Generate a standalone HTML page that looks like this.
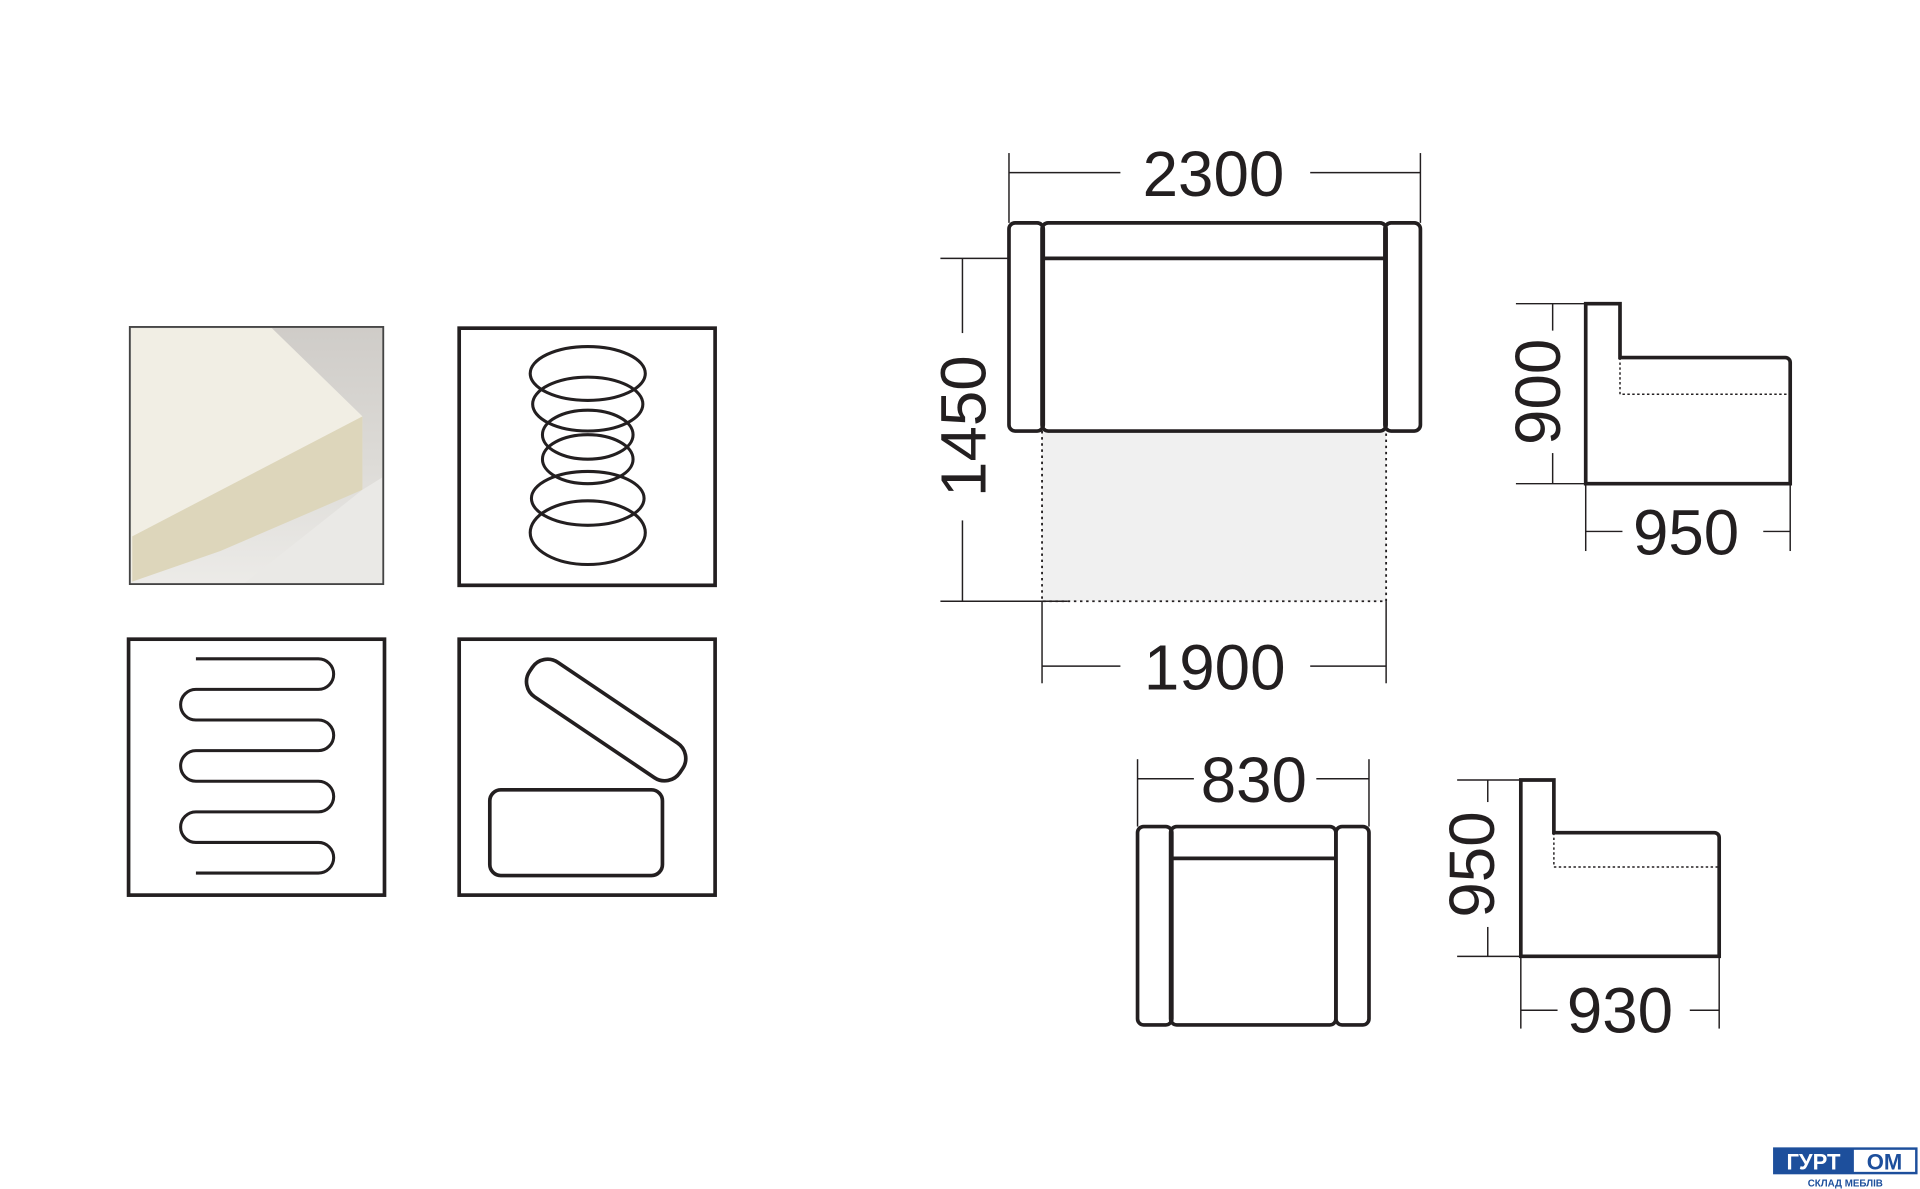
<!DOCTYPE html>
<html><head><meta charset="utf-8"><style>
html,body{margin:0;padding:0;background:#fff;}
svg{display:block}
text{font-family:"Liberation Sans",Arial,sans-serif;fill:#231f20}
</style></head><body>
<svg width="1920" height="1189" viewBox="0 0 1568 971" preserveAspectRatio="none" xmlns="http://www.w3.org/2000/svg">
<defs>
<linearGradient id="bg" x1="0" y1="0" x2="0" y2="1">
<stop offset="0" stop-color="#cfccc8"/><stop offset="0.5" stop-color="#dcdad6"/><stop offset="1" stop-color="#ecebe8"/>
</linearGradient>
</defs>
<g stroke="#231f20" fill="none" stroke-width="3">
<!-- foam photo -->
<rect x="106" y="267" width="207" height="210" fill="url(#bg)" stroke="none"/>
<polygon points="107,268 222,268 296,340 296,400 107,475" fill="#f1eee4" stroke="none"/>
<polygon points="108,438 296,340 296,400 180,450 108,475" fill="#ddd6bb" stroke="none"/>
<polygon points="296,400 312,390 312,476 200,476" fill="#eae9e6" stroke="none"/>
<rect x="106" y="267" width="207" height="210" stroke="#444" stroke-width="1.5"/>
<!-- spring box -->
<rect x="375" y="268" width="209" height="210"/>
<g stroke-width="2.5">
<ellipse cx="480" cy="305" rx="47" ry="22"/>
<ellipse cx="480" cy="330" rx="45" ry="22"/>
<ellipse cx="480" cy="355" rx="37" ry="20"/>
<ellipse cx="480" cy="375" rx="37" ry="20"/>
<ellipse cx="480" cy="407" rx="46" ry="22"/>
<ellipse cx="480" cy="435" rx="47" ry="26"/>
</g>
<!-- zigzag box -->
<rect x="105" y="522" width="209" height="209"/>
<path d="M160,538 H260 A12,12 0 0 1 260,563 H160 A12,12 0 0 0 160,588 H260 A12,12 0 0 1 260,613 H160 A12,12 0 0 0 160,638 H260 A12,12 0 0 1 260,663 H160 A12,12 0 0 0 160,688 H260 A12,12 0 0 1 260,713 H160" stroke-width="2.5"/>
<!-- storage box -->
<rect x="375" y="522" width="209" height="209"/>
<rect x="400" y="645" width="141" height="70" rx="9"/>
<rect x="421" y="571" width="148" height="34" rx="15" transform="rotate(34 495 588)"/>

<!-- sofa -->
<rect x="851" y="352" width="281" height="139" fill="#f0f0f0" stroke="none"/>
<path d="M851,352 V491 H1132 V352" stroke-width="1.5" stroke-dasharray="2,3"/>
<rect x="824" y="182" width="28" height="170" rx="5"/>
<rect x="1131" y="182" width="29" height="170" rx="5"/>
<rect x="851" y="182" width="281" height="170" rx="5"/>
<line x1="851" y1="211" x2="1132" y2="211"/>
<g stroke-width="1.2">
<line x1="824" y1="125" x2="824" y2="182"/><line x1="1160" y1="125" x2="1160" y2="182"/>
<line x1="824" y1="141" x2="915" y2="141"/><line x1="1070" y1="141" x2="1160" y2="141"/>
<line x1="768" y1="211" x2="824" y2="211"/><line x1="768" y1="491" x2="872" y2="491"/>
<line x1="786" y1="211" x2="786" y2="272"/><line x1="786" y1="425" x2="786" y2="491"/>
<line x1="851" y1="491" x2="851" y2="558"/><line x1="1132" y1="491" x2="1132" y2="558"/>
<line x1="851" y1="544" x2="915" y2="544"/><line x1="1070" y1="544" x2="1132" y2="544"/>
</g>
<!-- side view 1 -->
<path d="M1295,395 V248 H1323 V292 H1458 A4,4 0 0 1 1462,296 V395 Z"/>
<path d="M1323,292 V322 H1462" stroke-width="1.2" stroke-dasharray="2,2"/>
<g stroke-width="1.2">
<line x1="1238" y1="248" x2="1295" y2="248"/><line x1="1238" y1="395" x2="1295" y2="395"/>
<line x1="1268" y1="248" x2="1268" y2="270"/><line x1="1268" y1="370" x2="1268" y2="395"/>
<line x1="1295" y1="395" x2="1295" y2="450"/><line x1="1462" y1="395" x2="1462" y2="450"/>
<line x1="1295" y1="434" x2="1325" y2="434"/><line x1="1440" y1="434" x2="1462" y2="434"/>
</g>
<!-- armchair -->
<rect x="929" y="675" width="28" height="162" rx="5"/>
<rect x="1091" y="675" width="27" height="162" rx="5"/>
<rect x="956" y="675" width="135" height="162" rx="5"/>
<line x1="956" y1="701" x2="1091" y2="701"/>
<g stroke-width="1.2">
<line x1="929" y1="620" x2="929" y2="675"/><line x1="1118" y1="620" x2="1118" y2="675"/>
<line x1="929" y1="636" x2="975" y2="636"/><line x1="1075" y1="636" x2="1118" y2="636"/>
</g>
<!-- side view 2 -->
<path d="M1242,781 V637 H1269 V680 H1400 A4,4 0 0 1 1404,684 V781 Z"/>
<path d="M1269,680 V708 H1404" stroke-width="1.2" stroke-dasharray="2,2"/>
<g stroke-width="1.2">
<line x1="1190" y1="637" x2="1242" y2="637"/><line x1="1190" y1="781" x2="1242" y2="781"/>
<line x1="1215" y1="637" x2="1215" y2="655"/><line x1="1215" y1="757" x2="1215" y2="781"/>
<line x1="1242" y1="781" x2="1242" y2="840"/><line x1="1404" y1="781" x2="1404" y2="840"/>
<line x1="1242" y1="825" x2="1272" y2="825"/><line x1="1380" y1="825" x2="1404" y2="825"/>
</g>
</g>
<g font-size="52" text-anchor="middle">
<text x="991" y="160">2300</text>
<text x="992" y="563">1900</text>
<text x="1377" y="453">950</text>
<text x="1024" y="655">830</text>
<text x="1323" y="843">930</text>
<text transform="translate(805,348) rotate(-90)">1450</text>
<text transform="translate(1274,320) rotate(-90)">900</text>
<text transform="translate(1220,706) rotate(-90)">950</text>
</g>
<!-- logo -->
<rect x="1448" y="937" width="118" height="22" fill="#1d4f9c"/>
<rect x="1514" y="939" width="50" height="18" fill="#fff"/>
<text x="1481" y="955" font-size="18" font-weight="bold" text-anchor="middle" style="fill:#fff">ГУРТ</text>
<text x="1539" y="955" font-size="18" font-weight="bold" text-anchor="middle" style="fill:#1d4f9c">ОМ</text>
<text x="1507" y="969" font-size="8" font-weight="bold" text-anchor="middle" style="fill:#1d4f9c">СКЛАД МЕБЛІВ</text>
</svg>
</body></html>
